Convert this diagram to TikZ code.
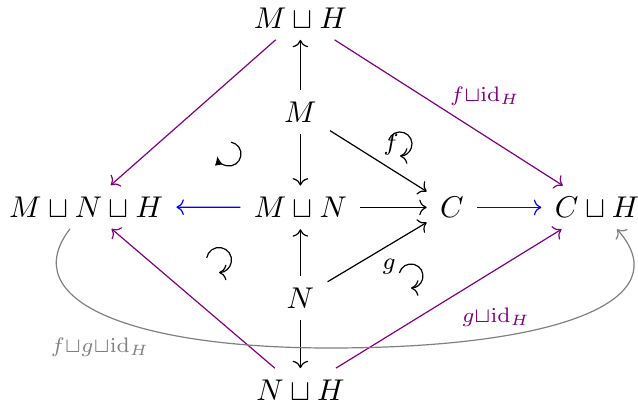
\documentclass[tikz,border=0pt]{standalone}
\usetikzlibrary{arrows.meta,cd}
\definecolor{cdpurple}{RGB}{128,0,128}
\begin{document}
\begin{tikzpicture}[x=0.33333pt,y=-0.33333pt,
  obj/.style={inner xsep=1ex, inner ysep=0.85ex},
  ar/.style={-{cm to}, line width=0.4pt},
  lab/.style={font=\footnotesize},
  rot/.style={-{cm to}},
  rotfill/.style={-{Latex[length=3pt,width=2.6pt]}}]
\useasboundingbox (0,0) rectangle (638,408);
% objects
\node[obj] (MH)  at (300.4,18)  {$M\sqcup H$};
\node[obj] (M)   at (300.4,112) {$M$};
\node[obj] (MNH) at (86,207)  {$M\sqcup N\sqcup H$};
\node[obj] (MN)  at (300.4,207.4) {$M\sqcup N$};
\node[obj] (C)   at (452,207.4) {$C$};
\node[obj] (CH)  at (597,207.4) {$C\sqcup H$};
\node[obj] (N)   at (300.4,298) {$N$};
\node[obj] (NH)  at (300.4,390) {$N\sqcup H$};
% black arrows
\draw[ar] (M) -- (MH);
\draw[ar] (M) -- (MN);
\draw[ar] (M) -- (C);
\draw[ar] (N) -- (MN);
\draw[ar] (N) -- (C);
\draw[ar] (N) -- (NH);
\draw[ar] (MN) -- (C);
% blue arrows
\draw[ar,blue] (MN) -- (MNH);
\draw[ar,blue] (C) -- (CH);
% purple arrows
\draw[ar,cdpurple] (MH) -- (MNH);
\draw[ar,cdpurple] (MH) -- (CH);
\draw[ar,cdpurple] (NH) -- (MNH);
\draw[ar,cdpurple] (NH) -- (CH);
\node[cdpurple] (l1) at (485,96) {$\scriptstyle f\sqcup\mathrm{id}_H$};
\node[cdpurple] (l2) at (496,317) {$\scriptstyle g\sqcup\mathrm{id}_H$};
% gray curve
\draw[ar,gray] ([xshift=-5.33pt]MNH.south) .. controls (15,300) and (130,348) .. (330,348)
   .. controls (560,348) and (680,300) .. ([xshift=6.67pt]CH.south);
\node[gray] (l3) at (100,347) {$\scriptstyle f\sqcup g\sqcup\mathrm{id}_H$};
% rotation marks
\draw[rotfill] (229,154) ++(-80:12) arc[start angle=-80, end angle=170, radius=12];
\draw[rot] (219,260) ++(190:12.5) arc[start angle=190, end angle=450, radius=12.5];
\node[lab] (lf) at (391,144) {$f$};
\draw[rot] (400,144) ++(200:12) arc[start angle=200, end angle=450, radius=12];
\node[lab] (lg) at (389,267) {$g$};
\draw[rot] (411,276) ++(195:12) arc[start angle=195, end angle=450, radius=12];
\end{tikzpicture}
\end{document}
